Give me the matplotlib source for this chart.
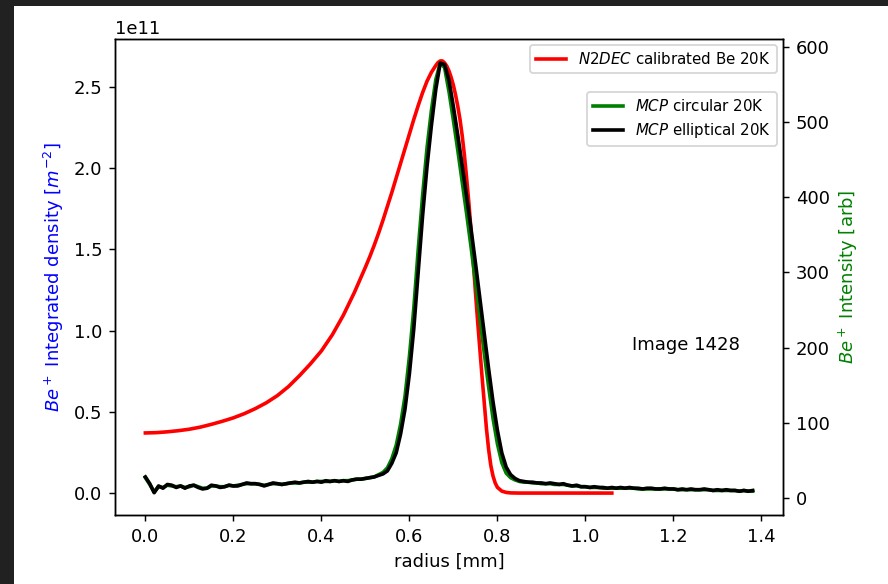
import matplotlib
matplotlib.use("Agg")
import matplotlib.pyplot as plt
from matplotlib.patches import Rectangle

# ---------------- data ----------------
# N2DEC calibrated Be 20K (left axis, units of 1e11 m^-2)
n2dec_r = [0.000, 0.025, 0.050, 0.075, 0.100, 0.125, 0.150, 0.175, 0.200, 0.225,
           0.250, 0.275, 0.300, 0.325, 0.350, 0.375, 0.400, 0.425, 0.450, 0.475,
           0.500, 0.510, 0.520, 0.530, 0.540, 0.550, 0.560, 0.570, 0.580, 0.590,
           0.600, 0.610, 0.620, 0.630, 0.640, 0.650, 0.660, 0.665, 0.670, 0.675,
           0.680, 0.685, 0.690, 0.695, 0.700, 0.705, 0.710, 0.715, 0.720, 0.725,
           0.730, 0.735, 0.740, 0.745, 0.750, 0.755, 0.760, 0.765, 0.770, 0.775,
           0.780, 0.785, 0.790, 0.795, 0.800, 0.810, 0.820, 0.830, 0.850, 1.060]
n2dec_val = [0.370, 0.372, 0.377, 0.384, 0.393, 0.406, 0.423, 0.442, 0.463, 0.489,
             0.520, 0.556, 0.600, 0.655, 0.722, 0.795, 0.875, 0.975, 1.095, 1.235,
             1.390, 1.455, 1.525, 1.600, 1.680, 1.765, 1.850, 1.940, 2.030, 2.120,
             2.210, 2.300, 2.385, 2.465, 2.535, 2.590, 2.632, 2.650, 2.660, 2.660,
             2.648, 2.628, 2.598, 2.558, 2.510, 2.450, 2.380, 2.300, 2.200, 2.080,
             1.940, 1.790, 1.620, 1.430, 1.240, 1.060, 0.890, 0.720, 0.560, 0.400,
             0.270, 0.170, 0.105, 0.062, 0.035, 0.012, 0.004, 0.001, 0.000, 0.000]
density_scale = 1e11

# MCP profiles (right axis, arb), radius in mm
mcp_r = [0.00, 0.01, 0.02, 0.03, 0.04, 0.05, 0.06, 0.07, 0.08, 0.09,
         0.10, 0.11, 0.12, 0.13, 0.14, 0.15, 0.16, 0.17, 0.18, 0.19,
         0.20, 0.21, 0.22, 0.23, 0.24, 0.25, 0.26, 0.27, 0.28, 0.29,
         0.30, 0.31, 0.32, 0.33, 0.34, 0.35, 0.36, 0.37, 0.38, 0.39,
         0.40, 0.41, 0.42, 0.43, 0.44, 0.45, 0.46, 0.47, 0.48, 0.49,
         0.50, 0.51, 0.52, 0.53, 0.54, 0.55, 0.56, 0.57, 0.58, 0.59,
         0.60, 0.61, 0.62, 0.63, 0.64, 0.65, 0.66, 0.67, 0.68, 0.69,
         0.70, 0.71, 0.72, 0.73, 0.74, 0.75, 0.76, 0.77, 0.78, 0.79,
         0.80, 0.81, 0.82, 0.83, 0.84, 0.85, 0.86, 0.87, 0.88, 0.89,
         0.90, 0.91, 0.92, 0.93, 0.94, 0.95, 0.96, 0.97, 0.98, 0.99,
         1.00, 1.01, 1.02, 1.03, 1.04, 1.05, 1.06, 1.07, 1.08, 1.09,
         1.10, 1.11, 1.12, 1.13, 1.14, 1.15, 1.16, 1.17, 1.18, 1.19,
         1.20, 1.21, 1.22, 1.23, 1.24, 1.25, 1.26, 1.27, 1.28, 1.29,
         1.30, 1.31, 1.32, 1.33, 1.34, 1.35, 1.36, 1.37, 1.38]
mcp_elliptical = [28, 19, 7, 16, 13, 18, 17, 14, 16, 13,
                  16, 17, 14, 12, 13, 17, 16, 14, 15, 17,
                  16, 16, 18, 20, 19, 19, 18, 16, 18, 20,
                  19, 18, 19, 20, 21, 20, 21, 22, 21, 22,
                  21, 23, 22, 23, 22, 23, 22, 24, 25, 25,
                  26, 27, 28, 30, 32, 36, 46, 60, 85, 118,
                  165, 225, 300, 375, 440, 495, 543, 578, 576, 555,
                  520, 482, 442, 401, 358, 313, 266, 219, 172, 128,
                  90, 60, 41, 31, 26, 23, 22, 21, 21, 20,
                  20, 19, 20, 19, 18, 19, 17, 16, 17, 15,
                  15, 14, 15, 14, 14, 13, 14, 13, 14, 13,
                  14, 13, 13, 12, 13, 13, 12, 12, 13, 12,
                  12, 11, 12, 11, 12, 11, 11, 12, 11, 10,
                  11, 10, 11, 10, 10, 9, 10, 9, 10]
mcp_circular = [27, 18, 8, 15, 14, 17, 16, 15, 16, 14,
                15, 17, 15, 13, 13, 16, 16, 15, 15, 17,
                16, 17, 18, 19, 19, 19, 18, 17, 18, 19,
                19, 18, 19, 20, 20, 20, 21, 21, 21, 22,
                22, 22, 22, 23, 22, 23, 23, 24, 25, 25,
                26, 27, 28, 31, 34, 40, 52, 70, 98, 135,
                188, 252, 330, 402, 465, 515, 556, 578, 572, 540,
                502, 462, 420, 378, 334, 288, 240, 193, 148, 106,
                72, 47, 33, 27, 24, 22, 21, 21, 20, 20,
                19, 19, 19, 18, 18, 18, 17, 16, 16, 15,
                15, 14, 14, 14, 13, 13, 13, 13, 13, 13,
                13, 13, 12, 12, 12, 12, 12, 12, 12, 12,
                12, 11, 11, 11, 11, 11, 11, 11, 11, 10,
                10, 10, 10, 10, 10, 9, 10, 9, 9]

# ---------------- figure ----------------
DPI = 130
fig = plt.figure(figsize=(888 / DPI, 584 / DPI), dpi=DPI)
fig.patch.set_facecolor("#212121")
fig.patches.append(Rectangle((14 / 888, 0), 1 - 14 / 888, 1 - 6 / 584,
                             transform=fig.transFigure, facecolor="white",
                             edgecolor="none", zorder=-10))

ax = fig.add_axes([115 / 888, 69 / 584, 668 / 888, 476 / 584])
ax2 = ax.twinx()

l_red, = ax.plot(n2dec_r, [v * density_scale for v in n2dec_val], color="red",
                 lw=2, label=r"$N2DEC$ calibrated Be 20K")
l_g, = ax2.plot(mcp_r, mcp_circular, color="green", lw=2,
                label=r"$MCP$ circular 20K")
l_k, = ax2.plot(mcp_r, mcp_elliptical, color="black", lw=2,
                label=r"$MCP$ elliptical 20K")

ax.set_ylim(-0.135e11, 2.795e11)
ax2.set_ylim(-22.6, 610)

ax.set_xlabel("radius [mm]")
ax.set_ylabel(r"$Be^+$ Integrated density [$m^{-2}$]", color="blue")
ax2.set_ylabel(r"$Be^+$ Intensity [arb]", color="green")

ax.set_xticks([0.0, 0.2, 0.4, 0.6, 0.8, 1.0, 1.2, 1.4])

ax.text(1.105, 0.88e11, "Image 1428")

ax.legend(handles=[l_red], loc="upper right", bbox_to_anchor=(0.991, 0.987),
          borderaxespad=0, fontsize="small")
ax2.legend(handles=[l_g, l_k], loc="upper right", bbox_to_anchor=(0.991, 0.889),
           borderaxespad=0, fontsize="small")

fig.savefig("out.png", dpi=DPI, facecolor=fig.get_facecolor())
